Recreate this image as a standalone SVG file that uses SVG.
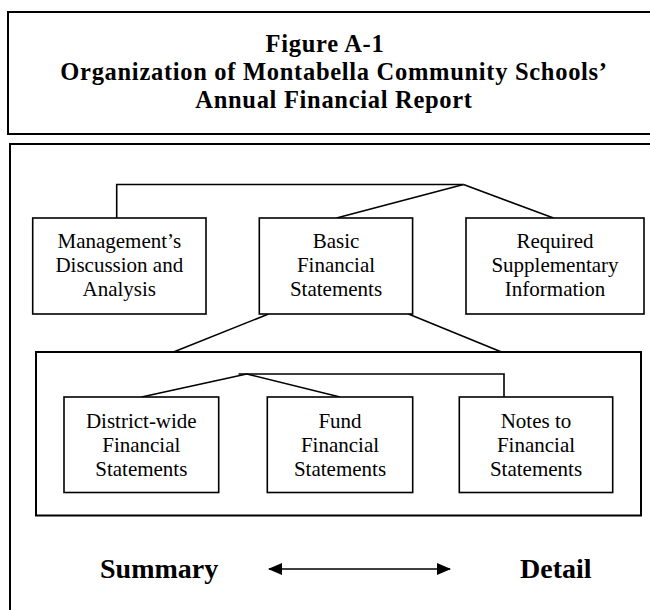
<svg xmlns="http://www.w3.org/2000/svg" width="650" height="610" viewBox="0 0 650 610">
  <defs>
    <style>
      .frame { fill: #fff; stroke: #000; stroke-width: 2; }
      .box { fill: #fff; stroke: #000; stroke-width: 1.6; }
      .link { fill: none; stroke: #000; stroke-width: 1.6; stroke-linejoin: miter; }
      .title { font-family: "Liberation Serif", "Times New Roman", serif; font-weight: bold; font-size: 24.5px; letter-spacing: 0.7px; text-anchor: middle; fill: #000; }
      .label { font-family: "Liberation Serif", "Times New Roman", serif; font-size: 21px; text-anchor: middle; fill: #000; }
      .scale { font-family: "Liberation Serif", "Times New Roman", serif; font-weight: bold; font-size: 28px; fill: #000; }
    </style>
    <marker id="head" viewBox="0 0 14 12" refX="13" refY="6" markerWidth="14" markerHeight="12" markerUnits="userSpaceOnUse" orient="auto-start-reverse">
      <path d="M0,0 L14,6 L0,12 Z" fill="#000"/>
    </marker>
  </defs>

  <rect width="650" height="610" fill="#fff"/>

  <!-- heading panel -->
  <g id="heading">
    <rect class="frame" x="8" y="12" width="660" height="122"/>
    <text class="title" x="325" y="52">Figure A-1</text>
    <text class="title" x="334" y="80">Organization of Montabella Community Schools’</text>
    <text class="title" x="334" y="108">Annual Financial Report</text>
  </g>

  <!-- outer chart panel -->
  <rect id="chart-frame" class="frame" x="10" y="144" width="660" height="480"/>

  <!-- frame grouping the basic statements -->
  <rect id="basic-group" class="frame" x="36" y="352" width="605" height="163.5"/>

  <!-- connectors -->
  <g id="connectors">
    <polyline class="link" points="116.7,218 116.7,184.5 463.5,184.5"/>
    <line class="link" x1="463.5" y1="184.5" x2="336.5" y2="218"/>
    <line class="link" x1="463.5" y1="184.5" x2="553.5" y2="218"/>
    <line class="link" x1="268.5" y1="314" x2="173.5" y2="352"/>
    <line class="link" x1="408.5" y1="314" x2="501.5" y2="352"/>
    <polyline class="link" points="238.5,374 504,374 504,397"/>
    <line class="link" x1="246.7" y1="374" x2="141.5" y2="397"/>
    <line class="link" x1="246.7" y1="374" x2="340" y2="397"/>
  </g>

  <g id="mdna">
    <rect class="box" x="32.7" y="218" width="173.3" height="96"/>
    <text class="label" x="119.3" y="248">Management’s</text>
    <text class="label" x="119.3" y="272">Discussion and</text>
    <text class="label" x="119.3" y="296">Analysis</text>
  </g>

  <g id="basic">
    <rect class="box" x="259.3" y="218" width="153.3" height="96"/>
    <text class="label" x="336" y="248">Basic</text>
    <text class="label" x="336" y="272">Financial</text>
    <text class="label" x="336" y="296">Statements</text>
  </g>

  <g id="rsi">
    <rect class="box" x="466" y="218" width="178" height="96"/>
    <text class="label" x="555" y="248">Required</text>
    <text class="label" x="555" y="272">Supplementary</text>
    <text class="label" x="555" y="296">Information</text>
  </g>

  <g id="district">
    <rect class="box" x="64" y="397" width="154.7" height="95.5"/>
    <text class="label" x="141.3" y="428">District-wide</text>
    <text class="label" x="141.3" y="452">Financial</text>
    <text class="label" x="141.3" y="476">Statements</text>
  </g>

  <g id="fund">
    <rect class="box" x="267.3" y="397" width="145.4" height="95.5"/>
    <text class="label" x="340" y="428">Fund</text>
    <text class="label" x="340" y="452">Financial</text>
    <text class="label" x="340" y="476">Statements</text>
  </g>

  <g id="notes">
    <rect class="box" x="459.3" y="397" width="153.4" height="95.5"/>
    <text class="label" x="536" y="428">Notes to</text>
    <text class="label" x="536" y="452">Financial</text>
    <text class="label" x="536" y="476">Statements</text>
  </g>

  <!-- summary-to-detail scale -->
  <g id="scale">
    <text class="scale" x="100" y="578">Summary</text>
    <line class="link" x1="269" y1="569" x2="450" y2="569" stroke-width="2" marker-start="url(#head)" marker-end="url(#head)"/>
    <text class="scale" x="520" y="578">Detail</text>
  </g>
</svg>
